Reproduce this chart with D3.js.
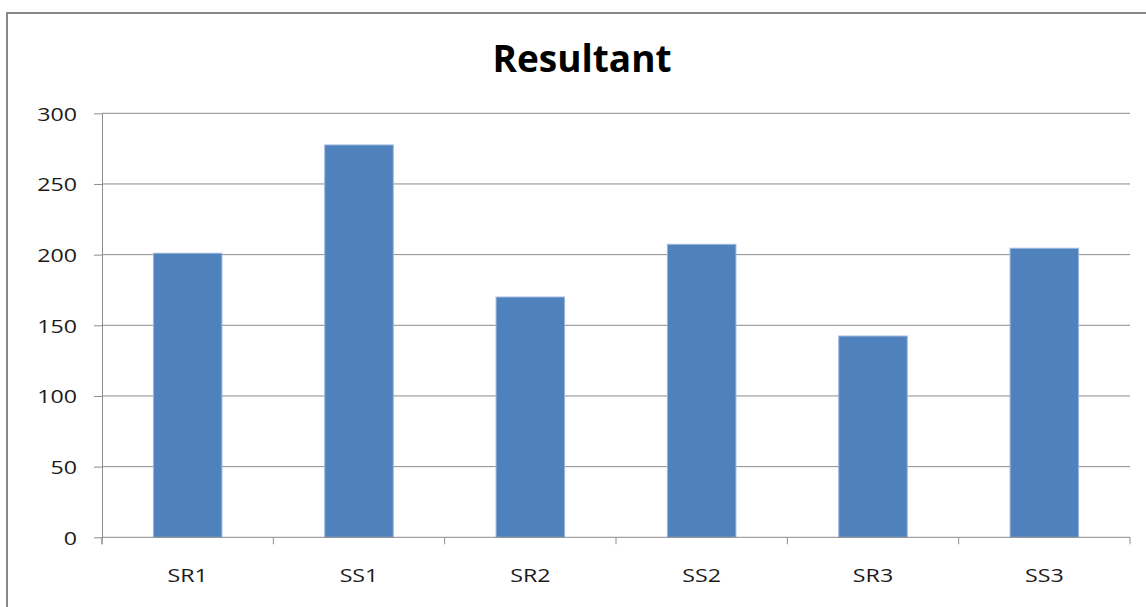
<!DOCTYPE html>
<html>
<head>
<meta charset="utf-8">
<script src="https://cdn.jsdelivr.net/npm/d3@7"></script>
<style>
  html, body { margin: 0; padding: 0; background: #fff; }
  svg { display: block; }
  text { font-family: "Open Sans", "Noto Sans", sans-serif; }
</style>
</head>
<body>
<svg id="chart" width="1146" height="607"></svg>
<script>
// Chart data
const categories = ["SR1", "SS1", "SR2", "SS2", "SR3", "SS3"];
const values = [201, 277.6, 170, 207.3, 142.4, 204.5];
const yTicks = [0, 50, 100, 150, 200, 250, 300];
const chartTitle = "Resultant";

const W = 1146, H = 607;
const plot = { left: 102, right: 1130, top: 113.3, bottom: 537.3 };
const textStretch = 1.22;   // widen glyphs horizontally

const svg = d3.select("#chart");

// Outer chart frame (continues past the page edges on the right and bottom)
svg.append("rect")
  .attr("x", 7).attr("y", 13)
  .attr("width", W + 40).attr("height", H + 40)
  .attr("fill", "#fff")
  .attr("stroke", "#878787")
  .attr("stroke-width", 2);

const x = d3.scaleBand()
  .domain(categories)
  .range([plot.left, plot.right])
  .paddingInner(0.6)
  .paddingOuter(0.3);

const y = d3.scaleLinear()
  .domain([0, 300])
  .range([plot.bottom, plot.top]);

// Horizontal gridlines
svg.append("g")
  .selectAll("line")
  .data(yTicks.filter(d => d > 0))
  .join("line")
  .attr("x1", plot.left).attr("x2", plot.right)
  .attr("y1", d => y(d)).attr("y2", d => y(d))
  .attr("stroke", "#8c8c8c")
  .attr("stroke-width", 1);

// Bars
svg.append("g")
  .selectAll("rect")
  .data(categories.map((c, i) => ({ c, v: values[i] })))
  .join("rect")
  .attr("x", d => x(d.c))
  .attr("y", d => y(d.v))
  .attr("width", x.bandwidth())
  .attr("height", d => y(0) - y(d.v))
  .attr("fill", "#4f81bd")
  .attr("stroke", "#9bb7dc")
  .attr("stroke-width", 1);

// Y axis
const yAxis = svg.append("g")
  .attr("transform", `translate(${plot.left},0)`)
  .call(d3.axisLeft(y).tickValues(yTicks).tickSize(8).tickPadding(17).tickSizeOuter(0));
yAxis.select(".domain").attr("stroke", "#8c8c8c");
yAxis.selectAll(".tick line").attr("stroke", "#8c8c8c");
yAxis.selectAll(".tick text")
  .attr("font-size", 19)
  .attr("fill", "#1a1a1a")
  .attr("dy", "0.36em");
// extend the vertical axis line slightly below zero
yAxis.append("line")
  .attr("x1", 0).attr("x2", 0)
  .attr("y1", plot.bottom).attr("y2", plot.bottom + 7)
  .attr("stroke", "#8c8c8c");

// X axis baseline with ticks at category boundaries
const xg = svg.append("g");
xg.append("line")
  .attr("x1", plot.left).attr("x2", plot.right)
  .attr("y1", plot.bottom).attr("y2", plot.bottom)
  .attr("stroke", "#8c8c8c");
const step = x.step();
const bounds = d3.range(categories.length + 1).map(i => plot.left + i * step);
xg.selectAll("line.tick")
  .data(bounds)
  .join("line")
  .attr("class", "tick")
  .attr("x1", d => d).attr("x2", d => d)
  .attr("y1", plot.bottom).attr("y2", plot.bottom + 7)
  .attr("stroke", "#8c8c8c");
xg.selectAll("text")
  .data(categories)
  .join("text")
  .attr("x", d => x(d) + x.bandwidth() / 2)
  .attr("y", 581.7)
  .attr("text-anchor", "middle")
  .attr("font-size", 19)
  .attr("fill", "#1a1a1a")
  .text(d => d);

// Title
svg.append("text")
  .attr("class", "title")
  .attr("x", 582)
  .attr("y", 72)
  .attr("text-anchor", "middle")
  .attr("font-size", 37)
  .attr("font-weight", 700)
  .attr("fill", "#000")
  .text(chartTitle);

// Widen every label horizontally
svg.selectAll("text").each(function () {
  const t = d3.select(this);
  const w = this.getComputedTextLength();
  const k = t.classed("title") ? 1.0 : textStretch;
  t.attr("textLength", w * k).attr("lengthAdjust", "spacingAndGlyphs");
});
</script>
</body>
</html>
